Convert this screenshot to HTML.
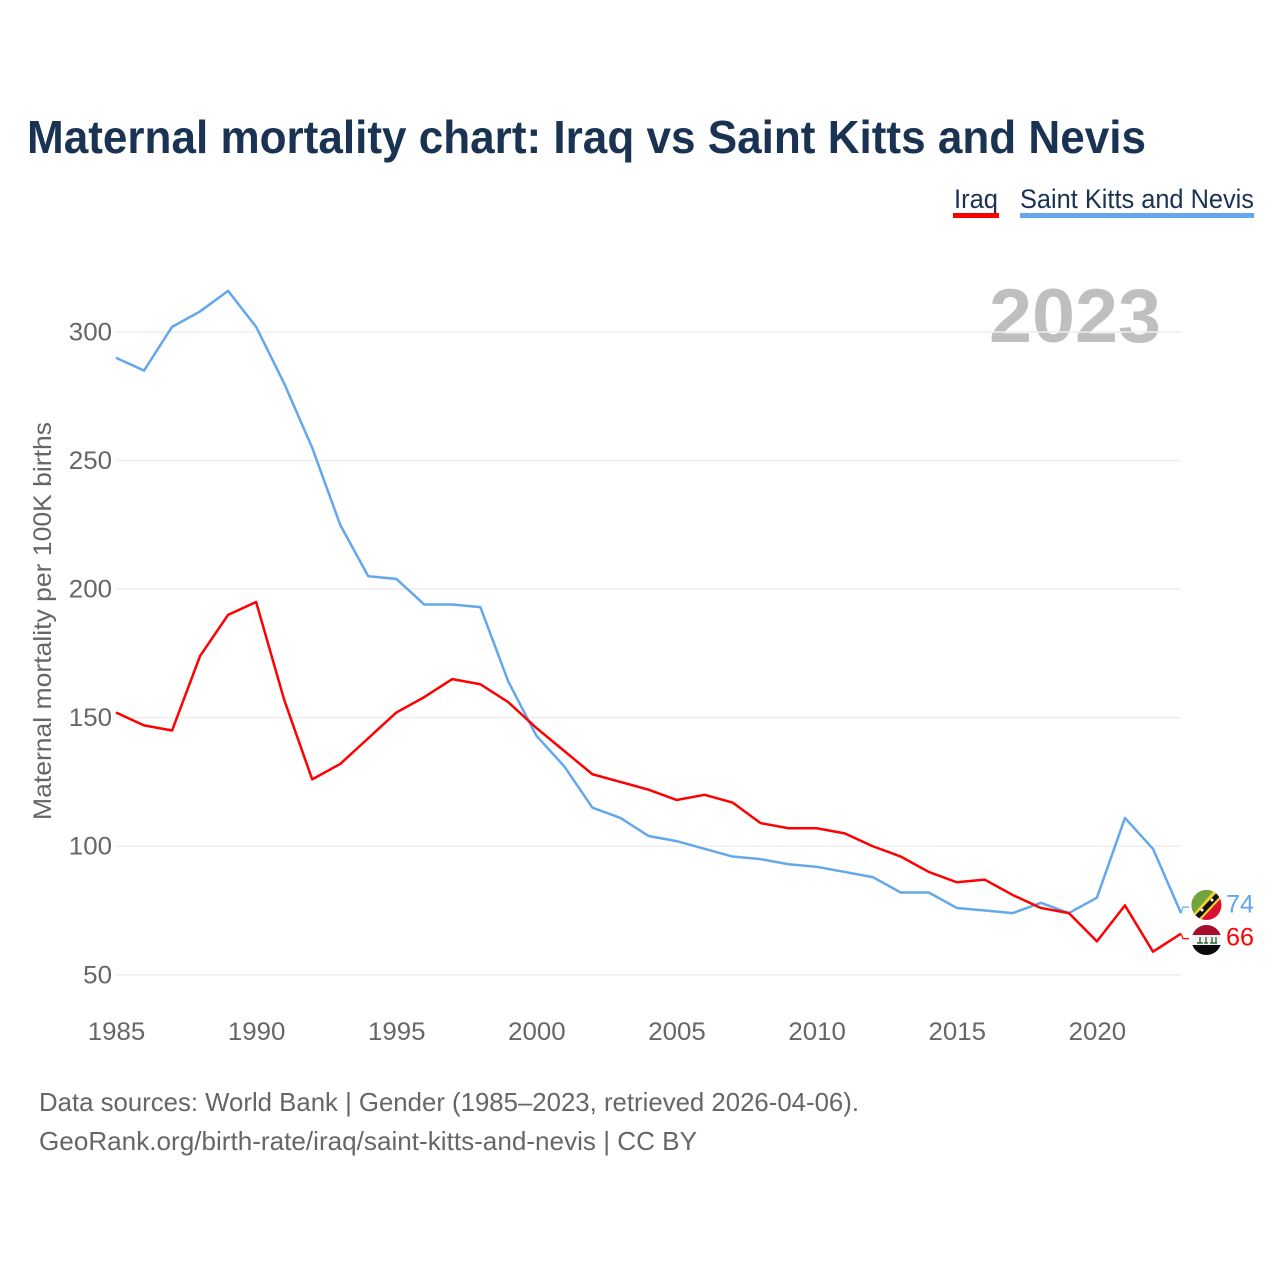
<!DOCTYPE html>
<html lang="en">
<head>
<meta charset="utf-8">
<title>Maternal mortality chart: Iraq vs Saint Kitts and Nevis</title>
<style>
html,body{margin:0;padding:0;background:#fff;width:1280px;height:1280px;overflow:hidden}
svg{display:block}
text{font-family:"Liberation Sans",sans-serif}
</style>
</head>
<body>
<svg id="chart" xmlns="http://www.w3.org/2000/svg" width="1280" height="1280" viewBox="0 0 1280 1280">
  <defs>
    <clipPath id="clip-kn"><circle cx="1206.5" cy="905" r="15"/></clipPath>
    <clipPath id="clip-iq"><circle cx="1206.5" cy="940" r="15"/></clipPath>
  </defs>
  <rect x="0" y="0" width="1280" height="1280" fill="#fff"/>
  <text x="27" y="153" font-size="46" font-weight="700" fill="#1a3353" textLength="1119" lengthAdjust="spacingAndGlyphs">Maternal mortality chart: Iraq vs Saint Kitts and Nevis</text>

  <g>
    <text x="954" y="208" font-size="27" fill="#1a3353" textLength="44" lengthAdjust="spacingAndGlyphs">Iraq</text>
    <rect x="953" y="213" width="46" height="5" fill="#ff0000"/>
  </g>
  <g>
    <text x="1020" y="208" font-size="27" fill="#1a3353" textLength="234" lengthAdjust="spacingAndGlyphs">Saint Kitts and Nevis</text>
    <rect x="1020" y="213" width="234" height="5" fill="#62a8ea"/>
  </g>

  <text x="989" y="342" font-size="76" font-weight="700" fill="#bfbfbf" textLength="172" lengthAdjust="spacingAndGlyphs">2023</text>

  <g id="grid"></g>
  <g id="yticks"></g>
  <g id="xticks"></g>
  <text transform="translate(51,820) rotate(-90)" x="0" y="0" font-size="25" fill="#666666" textLength="398" lengthAdjust="spacingAndGlyphs">Maternal mortality per 100K births</text>

  <g id="series"></g>

  <g clip-path="url(#clip-kn)">
    <rect x="1190" y="888" width="34" height="34" fill="#d9122f"/>
    <polygon points="1190,888 1224,888 1190,922" fill="#6fa53c"/>
    <polygon points="1190,918 1190,924 1197,924 1224,895 1224,886 1218,886" fill="#f4d22e"/>
    <polygon points="1190,921 1194,924 1224,892 1221,888" fill="#111"/>
    <circle cx="1202" cy="910" r="1.5" fill="#fff"/>
    <circle cx="1212" cy="900" r="1.5" fill="#fff"/>
  </g>
  <g clip-path="url(#clip-iq)">
    <rect x="1190" y="925" width="34" height="10" fill="#a50d2b"/>
    <rect x="1190" y="935" width="34" height="10" fill="#f4f4f4"/>
    <rect x="1190" y="945" width="34" height="11" fill="#0b0b0b"/>
    <path d="M1197 943h6M1200 937v6M1204 943h4M1206 937v6M1210 943h7M1212 937v6M1216 937v6" stroke="#2c6b3a" stroke-width="1.4" fill="none"/>
  </g>

  <g id="end-labels"></g>

  <text x="39" y="1111" font-size="26" fill="#666666" textLength="820" lengthAdjust="spacingAndGlyphs">Data sources: World Bank | Gender (1985–2023, retrieved 2026-04-06).</text>
  <text x="39" y="1150" font-size="26" fill="#666666" textLength="658" lengthAdjust="spacingAndGlyphs">GeoRank.org/birth-rate/iraq/saint-kitts-and-nevis | CC BY</text>
</svg>
<script>
const years = [1985,1986,1987,1988,1989,1990,1991,1992,1993,1994,1995,1996,1997,1998,1999,2000,2001,2002,2003,2004,2005,2006,2007,2008,2009,2010,2011,2012,2013,2014,2015,2016,2017,2018,2019,2020,2021,2022,2023];
const iraqValues = [152,147,145,174,190,195,157,126,132,142,152,158,165,163,156,146,137,128,125,122,118,120,117,109,107,107,105,100,96,90,86,87,81,76,74,63,77,59,66];
const kittsValues = [290,285,302,308,316,302,280,255,225,205,204,194,194,193,164,143,131,115,111,104,102,99,96,95,93,92,90,88,82,82,76,75,74,78,74,80,111,99,74];
const yTickValues = [50,100,150,200,250,300];
const xTickValues = [1985,1990,1995,2000,2005,2010,2015,2020];

const NS = 'http://www.w3.org/2000/svg';
function xScale(year){ return 116 + (year - 1985) * (1181 - 116) / (2023 - 1985); }
function yScale(value){ return 974.8 - (value - 50) * (974.8 - 332) / (300 - 50); }
function make(tag, parent, attrs, text){
  const el = document.createElementNS(NS, tag);
  for (const k in attrs) el.setAttribute(k, attrs[k]);
  if (text !== undefined) el.textContent = text;
  parent.appendChild(el);
  return el;
}
const grid = document.getElementById('grid');
const yticks = document.getElementById('yticks');
const xticks = document.getElementById('xticks');
const series = document.getElementById('series');
const endLabels = document.getElementById('end-labels');

yTickValues.forEach(function(v){
  const line = make('line', grid, {x1:116, x2:1181, y1:yScale(v), y2:yScale(v), stroke:'#eeeeee', 'stroke-width':1.5});
  
  
  const label = make('text', yticks, {x:112, y:yScale(v)+8.5, 'font-size':25, fill:'#666666', 'text-anchor':'end', textLength:String(v).length*14.4, lengthAdjust:'spacingAndGlyphs'}, String(v));
  
  
});
xTickValues.forEach(function(v){
  const label = make('text', xticks, {x:xScale(v)+0.5, y:1040, 'font-size':25, fill:'#666666', 'text-anchor':'middle', textLength:57.5, lengthAdjust:'spacingAndGlyphs'}, String(v));
  
  
});
function linePoints(values){
  return values.map(function(v,i){ return xScale(years[i]).toFixed(2)+','+yScale(v).toFixed(2); }).join(' ');
}
const kittsLine = make('polyline', series, {points:linePoints(kittsValues), fill:'none', stroke:'#62a8ea', 'stroke-width':2.5, 'stroke-linejoin':'round'});


const iraqLine = make('polyline', series, {points:linePoints(iraqValues), fill:'none', stroke:'#ff0000', 'stroke-width':2.5, 'stroke-linejoin':'round'});



const kittsLast = kittsValues[kittsValues.length-1];
const iraqLast = iraqValues[iraqValues.length-1];
const kittsEndY = yScale(kittsLast);
const iraqEndY = yScale(iraqLast);
const kittsConnector = make('polyline', endLabels, {points:'1181,'+kittsEndY+' 1183,'+(kittsEndY-6)+' 1189,'+(kittsEndY-6), fill:'none', stroke:'#62a8ea', 'stroke-width':1.2});


const iraqConnector = make('polyline', endLabels, {points:'1181,'+iraqEndY+' 1183,'+(iraqEndY+5)+' 1189,'+(iraqEndY+5), fill:'none', stroke:'#ff0000', 'stroke-width':1.2});


const kittsValueLabel = make('text', endLabels, {x:1226, y:912.5, 'font-size':25, fill:'#62a8ea', textLength:28, lengthAdjust:'spacingAndGlyphs'}, String(kittsLast));


const iraqValueLabel = make('text', endLabels, {x:1226, y:945.5, 'font-size':25, fill:'#ff0000', textLength:28, lengthAdjust:'spacingAndGlyphs'}, String(iraqLast));


</script>
</body>
</html>
